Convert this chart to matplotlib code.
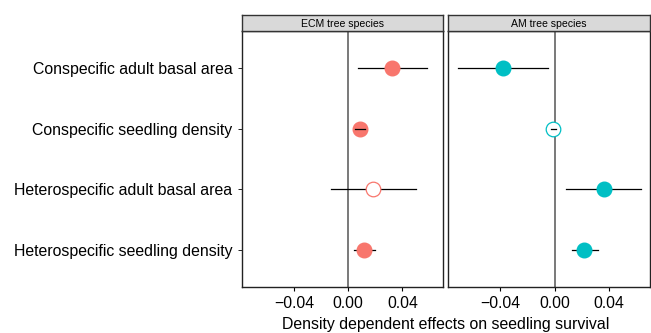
import numpy as np
import matplotlib.pyplot as plt

plt.rcParams["font.family"] = ["Liberation Sans", "DejaVu Sans"]

terms = [
    "Conspecific adult basal area",
    "Conspecific seedling density",
    "Heterospecific adult basal area",
    "Heterospecific seedling density",
]

panels = ["ECM tree species", "AM tree species"]
colors = ["#F8766D", "#00BFC4"]

# estimates, lower and upper CI, significance (filled point)
ecm_est = [0.0327, 0.0086, 0.0187, 0.0118]
ecm_lo = [0.0074, 0.0050, -0.0125, 0.0042]
ecm_hi = [0.0585, 0.0128, 0.0499, 0.0197]
ecm_sig = [True, True, False, True]

am_est = [-0.0382, -0.0012, 0.0361, 0.0218]
am_lo = [-0.0712, -0.0030, 0.0086, 0.0125]
am_hi = [-0.0046, 0.0012, 0.0634, 0.0317]
am_sig = [True, False, True, True]

data = [
    (ecm_est, ecm_lo, ecm_hi, ecm_sig),
    (am_est, am_lo, am_hi, am_sig),
]

W, H = 651, 333
fig = plt.figure(figsize=(W / 100, H / 100), dpi=100)

panel_x = [(242, 443), (448, 650)]
top, bottom, strip_top = 31, 287, 15
ypos = np.arange(len(terms))[::-1] + 1

for i, ((x0, x1), title, col, (est, lo, hi, sig)) in enumerate(
    zip(panel_x, panels, colors, data)
):
    ax = fig.add_axes([x0 / W, 1 - bottom / H, (x1 - x0) / W, (bottom - top) / H])
    ax.axvline(0, color="#555555", lw=1.1, zorder=1)
    for y, e, l, h, s in zip(ypos, est, lo, hi, sig):
        # short intervals hidden inside the point are drawn on top
        z = 4 if (h - l) < 0.01 else 2
        ax.plot([l, h], [y, y], color="black", lw=0.9, zorder=z)
        if s:
            ax.plot(e, y, "o", ms=10.5, color=col, mec=col, zorder=3)
        else:
            ax.plot(e, y, "o", ms=10.5, mfc="white", mec=col, mew=0.9, zorder=3)
    ax.set_xlim(-0.0783, 0.0700)
    ax.set_ylim(0.4, 4.6)
    ax.set_xticks([-0.04, 0.0, 0.04])
    ax.set_xticklabels(["\u22120.04", "0.00", "0.04"])
    ax.tick_params(axis="x", labelsize=11.3, length=3, width=0.8, colors="black")
    for sp in ax.spines.values():
        sp.set_linewidth(1.0)
        sp.set_color("#222222")
    if i == 0:
        ax.set_yticks(ypos)
        ax.set_yticklabels(terms, fontsize=11.4)
        ax.tick_params(axis="y", length=3, width=0.6, pad=4)
    else:
        ax.set_yticks([])

    sax = fig.add_axes([x0 / W, 1 - top / H, (x1 - x0) / W, (top - strip_top) / H])
    sax.set_facecolor("#D9D9D9")
    sax.set_xticks([])
    sax.set_yticks([])
    for sp in sax.spines.values():
        sp.set_linewidth(1.0)
        sp.set_color("#333333")
    sax.text(0.5, 0.45, title, ha="center", va="center", fontsize=7.6, transform=sax.transAxes)

fig.text((242 + 650) / 2 / W, 1 - 325 / H, "Density dependent effects on seedling survival",
         ha="center", va="center", fontsize=11.4)

fig.savefig("out.png", dpi=100)
